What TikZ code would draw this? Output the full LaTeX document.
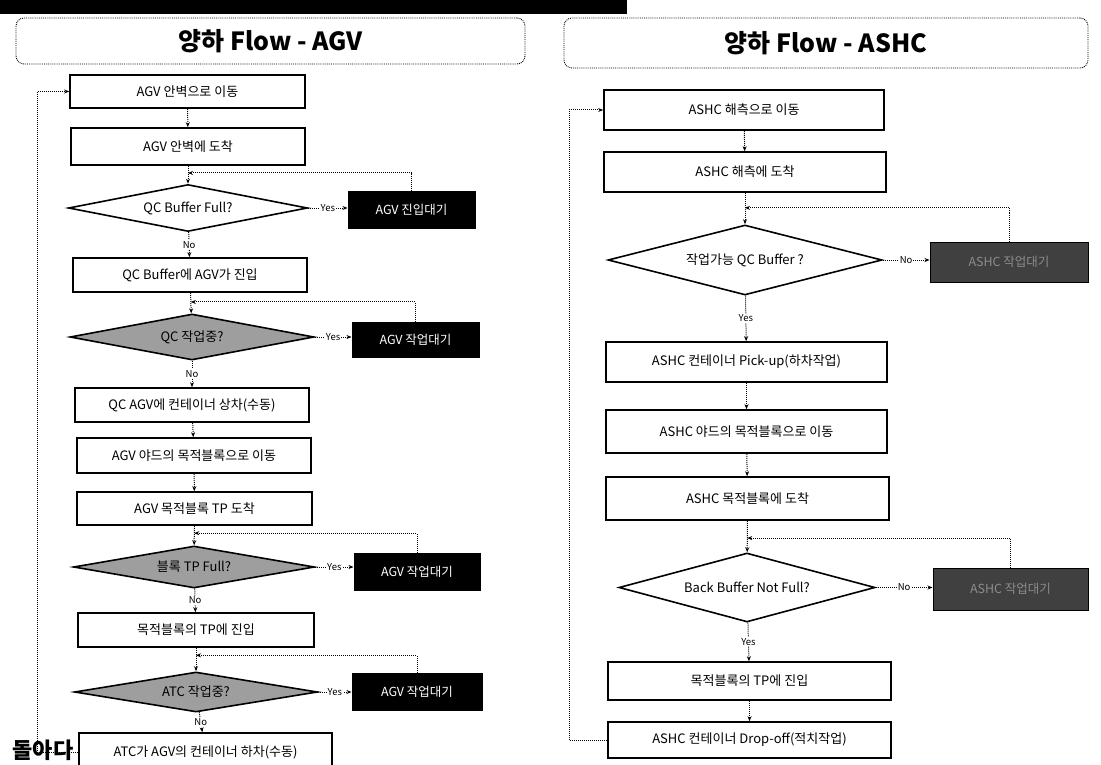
\documentclass[tikz,border=0pt]{standalone}
\usepackage{fontspec}
\setmainfont{Noto Sans CJK KR}
\usetikzlibrary{shapes.geometric,arrows.meta,calc}
\begin{document}
\begin{tikzpicture}[x=1pt,y=-1pt,
 wh/.style 2 args={minimum width=#1pt,minimum height=#2pt},
 box/.style={draw=black,line width=1.6pt,fill=white,inner sep=0pt,font=\fontsize{13}{15}\selectfont},
 dec/.style={diamond,aspect=5,draw=black,line width=1.6pt,fill=white,inner sep=0pt,font=\fontsize{13}{15}\selectfont},
 decg/.style={dec,fill=black!38},
 blk/.style={draw=black,fill=black,text=white,line width=1pt,inner sep=0pt,font=\fontsize{12.5}{14}\selectfont},
 blkd/.style={blk,fill=black!75,text=black!45},
 conn/.style={densely dotted,line width=1pt,-{Stealth[length=5pt,width=4pt]}},
 lab/.style={fill=white,inner sep=1pt,font=\fontsize{9.5}{10}\selectfont},
 ttl/.style={draw=black,densely dotted,line width=0.9pt,rounded corners=8pt,inner sep=0pt,font=\bfseries\fontsize{25}{28}\selectfont}
]
\useasboundingbox (0,0) rectangle (1101,765);
\fill[black] (0,0) rectangle (627,14);

% titles
\node[ttl,wh={509}{46}] (t1) at (270.5,41) {양하 Flow - AGV};
\node[ttl,wh={524}{50}] (t2) at (826,43) {양하 Flow - ASHC};

% AGV column
\node[box,wh={235}{33}] (g1) at (187.5,91.5) {AGV 안벽으로 이동};
\node[box,wh={234}{37}] (g2) at (188,146.5) {AGV 안벽에 도착};
\node[dec,wh={239}{47}] (gd1) at (188,208) {QC Buffer Full?};
\node[blk,wh={127}{36}] (gb1) at (411.5,210) {AGV 진입대기};
\node[box,wh={234}{34}] (g3) at (190,275) {QC Buffer에 AGV가 진입};
\node[decg,wh={244}{46}] (gd2) at (192,337) {QC 작업중?};
\node[blk,wh={127}{35}] (gb2) at (415.5,339.5) {AGV 작업대기};
\node[box,wh={234}{34}] (g4) at (192,405) {QC AGV에 컨테이너 상차(수동)};
\node[box,wh={234}{35}] (g5) at (194,455.5) {AGV 야드의 목적블록으로 이동};
\node[box,wh={235}{33}] (g6) at (194.5,508.5) {AGV 목적블록 TP 도착};
\node[decg,wh={241}{42}] (gd3) at (194,567) {블록 TP Full?};
\node[blk,wh={126}{37}] (gb3) at (417,571.5) {AGV 작업대기};
\node[box,wh={236}{34}] (g7) at (196,630) {목적블록의 TP에 진입};
\node[decg,wh={243}{40}] (gd4) at (196,692) {ATC 작업중?};
\node[blk,wh={130}{37}] (gb4) at (417,691.5) {AGV 작업대기};
\node[box,wh={253}{38}] (g8) at (205.5,752) {ATC가 AGV의 컨테이너 하차(수동)};

\coordinate (gm1) at ($(g2.south)!0.4!(gd1.north)$);
\coordinate (gm2) at ($(g3.south)!0.45!(gd2.north)$);
\coordinate (gm3) at ($(g6.south)!0.38!(gd3.north)$);
\coordinate (gm4) at ($(g7.south)!0.32!(gd4.north)$);

\draw[conn] (g1) -- (g2);
\draw[conn] (g2) -- (gd1);
\draw[conn] (gd1) -- node[lab]{No} (g3);
\draw[conn] (gd1.east) -- node[lab]{Yes} (gb1.west |- gd1.east);
\draw[conn] (gb1.north) |- (gm1);
\draw[conn] (g3) -- (gd2);
\draw[conn] (gd2) -- node[lab]{No} (g4);
\draw[conn] (gd2.east) -- node[lab]{Yes} (gb2.west |- gd2.east);
\draw[conn] (gb2.north) |- (gm2);
\draw[conn] (g4) -- (g5);
\draw[conn] (g5) -- (g6);
\draw[conn] (g6) -- (gd3);
\draw[conn] (gd3) -- node[lab]{No} (g7);
\draw[conn] (gd3.east) -- node[lab]{Yes} (gb3.west |- gd3.east);
\draw[conn] (gb3.north) |- (gm3);
\draw[conn] (g7) -- (gd4);
\draw[conn] (gd4) -- node[lab]{No} (g8);
\draw[conn] (gd4.east) -- node[lab]{Yes} (gb4.west |- gd4.east);
\draw[conn] (gb4.north) |- (gm4);
\draw[conn] (g8.west) -- ++(-41,0) |- (g1.west);

% ASHC column
\node[box,wh={280}{40}] (h1) at (744,110) {ASHC 해측으로 이동};
\node[box,wh={282}{40}] (h2) at (745,172) {ASHC 해측에 도착};
\node[dec,wh={274}{70}] (hd1) at (745,260) {작업가능 QC Buffer ?};
\node[blkd,wh={158}{40}] (hb1) at (1009,262) {ASHC 작업대기};
\node[box,wh={281}{40}] (h3) at (746.5,362) {ASHC 컨테이너 Pick-up(하차작업)};
\node[box,wh={281}{43}] (h4) at (746.5,431.5) {ASHC 야드의 목적블록으로 이동};
\node[box,wh={283}{43}] (h5) at (747.5,498.5) {ASHC 목적블록에 도착};
\node[dec,wh={256}{69}] (hd2) at (747,587.5) {Back Buffer Not Full?};
\node[blkd,wh={155}{42}] (hb2) at (1010.5,589) {ASHC 작업대기};
\node[box,wh={283}{38}] (h6) at (749.5,681) {목적블록의 TP에 진입};
\node[box,wh={283}{36}] (h7) at (749.5,740) {ASHC 컨테이너 Drop-off(적치작업)};

\coordinate (hm1) at ($(h2.south)!0.48!(hd1.north)$);
\coordinate (hm2) at ($(h5.south)!0.55!(hd2.north)$);

\draw[conn] (h1) -- (h2);
\draw[conn] (h2) -- (hd1);
\draw[conn] (hd1) -- node[lab]{Yes} (h3);
\draw[conn] (hd1.east) -- node[lab]{No} (hb1.west |- hd1.east);
\draw[conn] (hb1.north) |- (hm1);
\draw[conn] (h3) -- (h4);
\draw[conn] (h4) -- (h5);
\draw[conn] (h5) -- (hd2);
\draw[conn] (hd2) -- node[lab]{Yes} (h6);
\draw[conn] (hd2.east) -- node[lab]{No} (hb2.west |- hd2.east);
\draw[conn] (hb2.north) |- (hm2);
\draw[conn] (h6) -- (h7);
\draw[conn] (h7.west) -- ++(-38,0) |- (h1.west);

\node[font=\bfseries\fontsize{22}{24}\selectfont,inner sep=0pt] (side) at (43,750) {돌아다};
\end{tikzpicture}
\end{document}
